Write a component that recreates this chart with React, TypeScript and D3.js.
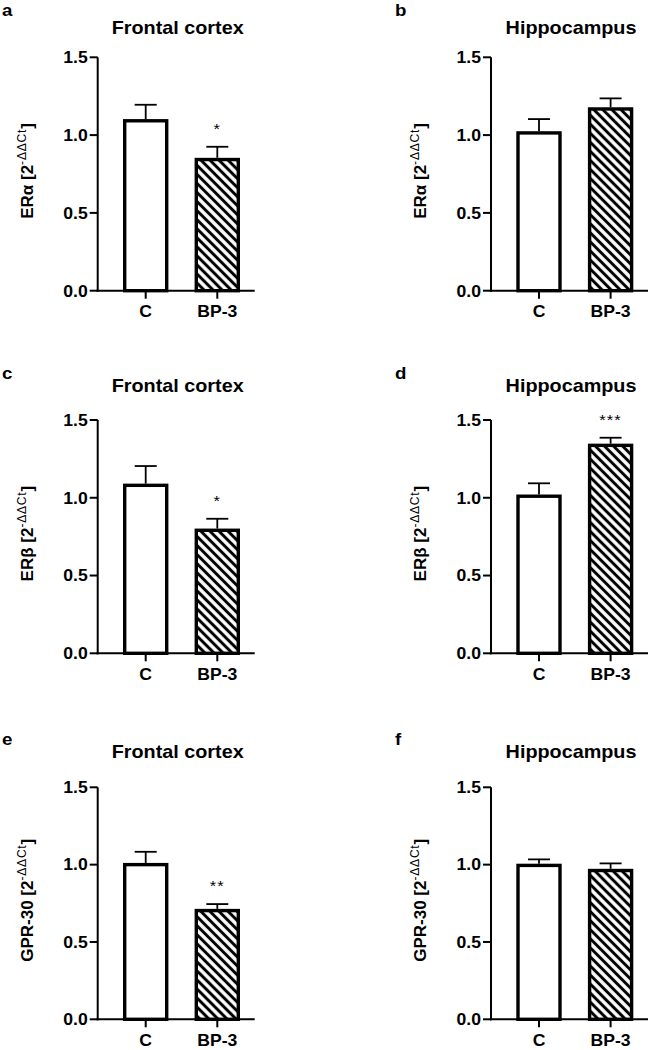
import React from "react";
import * as d3 from "d3";

const groups = ["C", "BP-3"];
const panelLetters = ["a", "b", "c", "d", "e", "f"];
const regions = ["Frontal cortex", "Hippocampus", "Frontal cortex", "Hippocampus", "Frontal cortex", "Hippocampus"];
const receptors = ["ERα", "ERα", "ERβ", "ERβ", "GPR-30", "GPR-30"];
const meanC = [1.092, 1.014, 1.08, 1.01, 1.0, 0.995];
const meanBP3 = [0.843, 1.168, 0.791, 1.337, 0.703, 0.962];
const semC = [0.103, 0.089, 0.124, 0.083, 0.083, 0.039];
const semBP3 = [0.082, 0.068, 0.074, 0.049, 0.042, 0.046];
const significance = ["*", "", "*", "***", "**", ""];
const yTicks = [0, 0.5, 1.0, 1.5];

// layout
const colAxisX = [97.7, 491];
const rowZeroY = [290.7, 653.3, 1019.3];
const rowTopY = [57.3, 420, 787.3];
const rowTitleY = [27, 385, 751.7];
const rowLetterY = [10, 373, 739];
const letterX = [2, 395];

const FONT = "'Liberation Sans', Arial, Helvetica, sans-serif";
const SX = 1.1;

function Panel({ i }: { i: number }) {
  const col = i % 2;
  const row = Math.floor(i / 2);
  const ax = colAxisX[col];
  const y = d3.scaleLinear().domain([0, 1.5]).range([rowZeroY[row], rowTopY[row]]);
  const x = d3.scalePoint<string>().domain(groups).range([ax + 48, ax + 119.6]);
  const barW = 42;
  const means = [meanC[i], meanBP3[i]];
  const sems = [semC[i], semBP3[i]];
  const fmt = d3.format(".1f");
  const y0 = y(0);
  const xEnd = ax + 157;
  const ylabX = ax - 71;
  const ylabY = (rowTopY[row] + rowZeroY[row]) / 2 - 3;
  return (
    <g>
      <text fontFamily={FONT} fontWeight="bold" fontSize={17} textAnchor="start"
        transform={`translate(${letterX[col]},${rowLetterY[row] + 6}) scale(${SX},1)`}>
        {panelLetters[i]}
      </text>
      <text fontFamily={FONT} fontWeight="bold" fontSize={18} textAnchor="middle"
        transform={`translate(${ax + 80},${rowTitleY[row] + 6.5}) scale(${SX},1)`}>
        {regions[i]}
      </text>
      {groups.map((g, k) => {
        const cx = x(g)!;
        const top = y(means[k]);
        return (
          <rect key={g} x={cx - barW / 2} y={top} width={barW} height={y0 - top}
            fill={k === 0 ? "#fff" : "url(#hatch)"} stroke="#000" strokeWidth={3.4} />
        );
      })}
      {groups.map((g, k) => {
        const cx = x(g)!;
        const top = y(means[k]);
        const et = y(means[k] + sems[k]);
        return (
          <g key={g} stroke="#000" strokeWidth={1.8}>
            <line x1={cx} x2={cx} y1={top - 1.7} y2={et} />
            <line x1={cx - 11} x2={cx + 11} y1={et} y2={et} />
          </g>
        );
      })}
      {significance[i] && (
        <text fontFamily={FONT} fontSize={15} textAnchor="middle" letterSpacing={1}
          transform={`translate(${x(groups[1])!},${y(means[1] + sems[1]) - 13}) scale(${SX},1)`}>
          {significance[i]}
        </text>
      )}
      <line x1={ax} x2={ax} y1={y(1.5)} y2={y0 + 1} stroke="#000" strokeWidth={2} />
      {yTicks.map((t) => (
        <g key={t}>
          <line x1={ax - 8} x2={ax} y1={y(t)} y2={y(t)} stroke="#000" strokeWidth={2} />
          <text fontFamily={FONT} fontWeight="bold" fontSize={16} textAnchor="end"
            transform={`translate(${ax - 10},${y(t) + 5.8}) scale(${SX},1)`}>
            {fmt(t)}
          </text>
        </g>
      ))}
      <line x1={ax - 1} x2={xEnd} y1={y0} y2={y0} stroke="#000" strokeWidth={2} />
      {groups.map((g) => (
        <g key={g}>
          <line x1={x(g)!} x2={x(g)!} y1={y0} y2={y0 + 8} stroke="#000" strokeWidth={2} />
          <text fontFamily={FONT} fontWeight="bold" fontSize={16} textAnchor="middle"
            transform={`translate(${x(g)!},${y0 + 26.5}) scale(${SX},1)`}>
            {g}
          </text>
        </g>
      ))}
      <text fontFamily={FONT} fontWeight="bold" fontSize={17} textAnchor="middle"
        transform={`translate(${ylabX + 6},${ylabY}) rotate(-90)`}>
        {receptors[i]} [2
        <tspan fontSize={12} fontWeight="normal" dy={-7} letterSpacing={0.8}>-ΔΔCt</tspan>
        <tspan dy={7}>]</tspan>
      </text>
    </g>
  );
}

export default function App() {
  return (
    <svg width={649} height={1050} style={{ position: "absolute", left: 0, top: 0, background: "#fff" }}>
      <defs>
        <pattern id="hatch" patternUnits="userSpaceOnUse" width={6.4} height={6.4} patternTransform="rotate(-45)">
          <line x1={3.2} x2={3.2} y1={-1} y2={7.4} stroke="#000" strokeWidth={3} />
        </pattern>
      </defs>
      <rect width={649} height={1050} fill="#fff" />
      {panelLetters.map((_, i) => (
        <Panel key={i} i={i} />
      ))}
    </svg>
  );
}
